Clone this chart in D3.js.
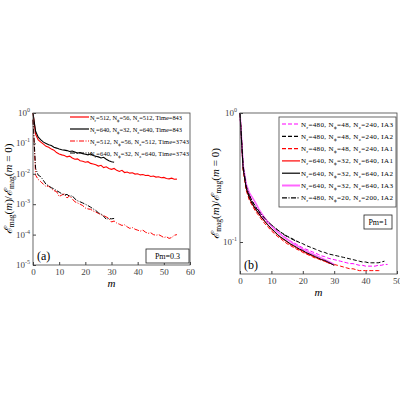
<!DOCTYPE html>
<html><head><meta charset="utf-8">
<script src="https://cdn.jsdelivr.net/npm/d3@7"></script>
<style>body{margin:0;background:#fff}text{font-family:"Liberation Serif",serif}</style>
</head><body><svg id="c" width="400" height="400"></svg>
<script>
/* panel (a) data, values read at m = 0,1,2,... */
var aRedSolid = [1,0.2,0.13,0.11,0.095,0.08,0.075,0.065,0.06,0.05,0.045,0.042,0.04,0.036,0.038,0.033,0.03,0.031,0.027,0.026,0.024,0.025,0.022,0.021,0.02,0.018,0.019,0.016,0.017,0.015,0.014,0.015,0.013,0.012,0.013,0.011,0.0115,0.0105,0.0108,0.0098,0.01,0.0092,0.0095,0.0088,0.009,0.0082,0.0085,0.0078,0.008,0.0074,0.0076,0.007,0.0068,0.0072,0.0066,0.0067];
var aBlackSolid = [1,0.25,0.16,0.13,0.11,0.1,0.09,0.085,0.075,0.07,0.065,0.062,0.06,0.058,0.054,0.056,0.052,0.048,0.05,0.046,0.044,0.042,0.045,0.04,0.038,0.036,0.033,0.035,0.03,0.027,0.025,0.024];
var aRedDash = [0.6,0.009,0.0065,0.0055,0.0045,0.0038,0.004,0.0032,0.0028,0.0026,0.0018,0.002,0.0022,0.0016,0.0019,0.0015,0.0012,0.0011,0.001,0.0009,0.00075,0.0007,0.00068,0.0006,0.00055,0.0005,0.00045,0.00042,0.00038,0.00034,0.00026,0.00028,0.00024,0.00022,0.0002,0.00021,0.00018,0.00016,0.00017,0.00015,0.00014,0.00013,0.00014,0.00012,0.00011,0.000115,0.0001,0.000095,0.0001,0.00009,0.00008,0.000085,0.000075,0.00008,0.000095,0.0001];
var aBlackDash = [0.6,0.015,0.009,0.008,0.006,0.0045,0.004,0.0035,0.0032,0.0028,0.0025,0.0022,0.002,0.0021,0.0018,0.0019,0.0015,0.0013,0.0012,0.0011,0.001,0.0009,0.0008,0.0007,0.00062,0.00052,0.00048,0.0004,0.00032,0.00034,0.00033,0.00034];
var aLegend = ["N_r=512, N_ϕ=56, N_z=512, Time=843","N_r=640, N_ϕ=32, N_z=640, Time=843","N_r=512, N_ϕ=56, N_z=512, Time=3743","N_r=640, N_ϕ=32, N_z=640, Time=3743"];
var aTicksX = [0,10,20,30,40,50,60];
var aTicksY = [1,1e-1,1e-2,1e-3,1e-4,1e-5];

/* panel (b) data, values read at m = 0,1,2,... */
var bMagDash = [1,0.38,0.27,0.23,0.205,0.185,0.17,0.158,0.148,0.14,0.132,0.126,0.12,0.115,0.11,0.106,0.102,0.099,0.096,0.093,0.09,0.088,0.086,0.084,0.082,0.08,0.078,0.077,0.075,0.074,0.073,0.072,0.071,0.07,0.069,0.068,0.068,0.067,0.066,0.066,0.065,0.065,0.065,0.065,0.066,0.066,0.067,0.067];
var bBlackDash = [1,0.38,0.27,0.23,0.205,0.186,0.172,0.16,0.15,0.142,0.135,0.129,0.124,0.119,0.115,0.111,0.108,0.105,0.102,0.099,0.097,0.094,0.092,0.09,0.088,0.086,0.084,0.083,0.081,0.08,0.079,0.078,0.077,0.076,0.075,0.074,0.073,0.072,0.071,0.07,0.07,0.069,0.069,0.069,0.069,0.07,0.071];
var bRedDash = [1,0.36,0.25,0.21,0.19,0.172,0.16,0.148,0.138,0.13,0.122,0.116,0.11,0.106,0.101,0.097,0.094,0.091,0.088,0.086,0.083,0.081,0.079,0.077,0.075,0.074,0.072,0.071,0.069,0.068,0.067,0.066,0.065,0.064,0.063,0.062,0.062,0.061,0.06,0.06,0.06,0.06,0.06,0.06,0.06,0.06];
var bRedSolid = [1,0.37,0.26,0.22,0.195,0.178,0.165,0.153,0.143,0.134,0.126,0.12,0.113,0.108,0.104,0.1,0.096,0.093,0.09,0.087,0.085,0.082,0.08,0.078,0.076,0.074,0.073,0.071,0.069,0.068,0.066];
var bBlackSolid = [1,0.37,0.26,0.22,0.196,0.18,0.166,0.154,0.144,0.135,0.127,0.121,0.114,0.109,0.105,0.101,0.097,0.094,0.091,0.088,0.086,0.083,0.081,0.079,0.077,0.075,0.073,0.072,0.07,0.068,0.066];
var bMagSolid = [1,0.39,0.28,0.24,0.22,0.2,0.18,0.165,0.152,0.142,0.133,0.126,0.12,0.114,0.109,0.105,0.101,0.097,0.094,0.091,0.088,0.086,0.083,0.081,0.079,0.077,0.075,0.073,0.071,0.069,0.067];
var bDashDot = [1,0.39,0.27,0.23,0.205,0.188,0.174,0.162,0.152,0.143,0.136,0.13,0.124,0.119,0.114,0.11,0.107,0.104,0.101,0.099];
var bLegend = ["N_r=480, N_ϕ=48, N_z=240, IA3","N_r=480, N_ϕ=48, N_z=240, IA2","N_r=480, N_ϕ=48, N_z=240, IA1","N_r=640, N_ϕ=32, N_z=640, IA1","N_r=640, N_ϕ=32, N_z=640, IA2","N_r=640, N_ϕ=32, N_z=640, IA3","N_r=480, N_ϕ=20, N_z=200, IA2"];
var bTicksX = [0,10,20,30,40,50];

var svg = d3.select("#c");
var DASH = "4,2", DASHDOT = "5,1.5,1,1.5";

/* writes "N_r=..." with subscripts as tspans */
function subText(t, s) {
  var drop = false;
  s.split(/(N_.)/).forEach(function(p) {
    if (!p) return;
    if (p.indexOf("N_") === 0) {
      t.append("tspan").text("N");
      t.append("tspan").attr("font-size", "0.7em").attr("dy", 2).text(p[2]);
      drop = true;
    } else {
      t.append("tspan").attr("dy", drop ? -2 : 0).text(p);
      drop = false;
    }
  });
}

function yLabel(g, x, y) {
  var t = g.append("text").attr("transform", "translate(" + x + "," + y + ") rotate(-90)")
    .attr("text-anchor", "middle").attr("font-size", 11);
  t.append("tspan").attr("font-style", "italic").text("ℰ");
  t.append("tspan").attr("font-size", 7.5).attr("dy", 2).text("mag");
  t.append("tspan").attr("dy", -2).text("(");
  t.append("tspan").attr("font-style", "italic").text("m");
  t.append("tspan").text(")/");
  t.append("tspan").attr("font-style", "italic").text("ℰ");
  t.append("tspan").attr("font-size", 7.5).attr("dy", 2).text("mag");
  t.append("tspan").attr("dy", -2).text("(");
  t.append("tspan").attr("font-style", "italic").text("m");
  t.append("tspan").text(" = 0)");
}

function panel(o) {
  var x = d3.scaleLinear().domain(o.xd).range([o.l, o.r]);
  var y = d3.scaleLog().domain(o.yd).range([o.b, o.t]);
  var g = svg.append("g");
  var line = d3.line().x(function(d, i) { return x(i); }).y(function(d) { return y(d); });
  o.series.forEach(function(s) {
    g.append("path").datum(s.v).attr("d", line).attr("fill", "none")
      .attr("stroke", s.c).attr("stroke-width", s.w || 1)
      .attr("stroke-dasharray", s.d || null);
  });
  g.append("rect").attr("x", o.l).attr("y", o.t).attr("width", o.r - o.l).attr("height", o.b - o.t)
    .attr("fill", "none").attr("stroke", "#444").attr("stroke-width", 0.8);
  var xa = g.append("g").attr("transform", "translate(0," + o.b + ")")
    .call(d3.axisBottom(x).tickValues(o.xt).tickSize(-3).tickPadding(4));
  var ya = g.append("g").attr("transform", "translate(" + o.l + ",0)")
    .call(d3.axisLeft(y).tickValues(o.yt).tickSize(-3).tickPadding(3).tickFormat(function() { return ""; }));
  [xa, ya].forEach(function(a) {
    a.select(".domain").remove();
    a.selectAll("line").attr("stroke", "#444");
    a.selectAll("text").attr("font-size", 9).attr("fill", "#444").attr("font-family", "Liberation Serif");
  });
  o.yt.forEach(function(v) {
    var e = Math.round(Math.log10(v));
    var t = g.append("text").attr("x", o.l - 3).attr("y", y(v) + 3).attr("text-anchor", "end")
      .attr("font-size", 9).attr("fill", "#444");
    t.append("tspan").text("10");
    t.append("tspan").attr("font-size", 6).attr("dy", -4).text(e);
  });
  g.append("text").attr("x", (o.l + o.r) / 2).attr("y", o.b + 22).attr("text-anchor", "middle")
    .attr("font-size", 11).attr("font-style", "italic").text("m");
  yLabel(g, o.l - 21, (o.t + o.b) / 2);
  g.append("text").attr("x", o.l + 4).attr("y", o.b - 5).attr("font-size", 12).text(o.tag);
  g.append("rect").attr("x", o.pm[0]).attr("y", o.pm[1]).attr("width", o.pm[2]).attr("height", 14)
    .attr("fill", "#fff").attr("stroke", "#222").attr("stroke-width", 0.8);
  g.append("text").attr("x", o.pm[0] + o.pm[2] / 2).attr("y", o.pm[1] + 10).attr("text-anchor", "middle")
    .attr("font-size", 8).text(o.pmText);
  return g;
}

/* panel (a) */
var ga = panel({
  l: 33, r: 190, t: 113, b: 265, xd: [0, 60], yd: [1e-5, 1], xt: aTicksX, yt: aTicksY, tag: "(a)",
  pm: [146, 249, 43], pmText: "Pm=0.3",
  series: [
    { v: aRedSolid, c: "#f00", w: 1.1 },
    { v: aBlackSolid, c: "#000", w: 1.1 },
    { v: aRedDash, c: "#f00", d: DASHDOT },
    { v: aBlackDash, c: "#000", d: DASHDOT }
  ]
});
var aSty = [{ c: "#f00" }, { c: "#000" }, { c: "#f00", d: DASHDOT }, { c: "#000", d: DASHDOT }];
aLegend.forEach(function(s, i) {
  var yy = 117 + i * 12;
  ga.append("line").attr("x1", 70).attr("x2", 89).attr("y1", yy).attr("y2", yy)
    .attr("stroke", aSty[i].c).attr("stroke-width", 1.2).attr("stroke-dasharray", aSty[i].d || null);
  subText(ga.append("text").attr("x", 90).attr("y", yy + 2.5).attr("font-size", 6.4)
    .attr("textLength", i >= 2 ? 99 : 92), s);
});

/* panel (b) */
var gb = panel({
  l: 240, r: 397, t: 113, b: 274, xd: [0, 50], yd: [0.0565, 1], xt: bTicksX, yt: [1, 0.1], tag: "(b)",
  pm: [364, 215, 28], pmText: "Pm=1",
  series: [
    { v: bMagDash, c: "#f0f", d: DASH },
    { v: bBlackDash, c: "#000", d: DASH },
    { v: bRedDash, c: "#f00", d: DASH },
    { v: bRedSolid, c: "#f00" },
    { v: bMagSolid, c: "#f6f", w: 1.6 },
    { v: bBlackSolid, c: "#000" },
    { v: bDashDot, c: "#000", d: DASHDOT }
  ]
});
gb.append("rect").attr("x", 279).attr("y", 117).attr("width", 117).attr("height", 90)
  .attr("fill", "#fff").attr("stroke", "#444").attr("stroke-width", 0.8);
var bSty = [{ c: "#f0f", d: DASH }, { c: "#000", d: DASH }, { c: "#f00", d: DASH }, { c: "#f00" }, { c: "#000" }, { c: "#f6f", w: 2 }, { c: "#000", d: DASHDOT }];
bLegend.forEach(function(s, i) {
  var yy = 124 + i * 12.3;
  gb.append("line").attr("x1", 282).attr("x2", 300).attr("y1", yy).attr("y2", yy)
    .attr("stroke", bSty[i].c).attr("stroke-width", bSty[i].w || 1.2).attr("stroke-dasharray", bSty[i].d || null);
  subText(gb.append("text").attr("x", 301).attr("y", yy + 2.5).attr("font-size", 7)
    .attr("textLength", 92), s);
});
</script></body></html>
